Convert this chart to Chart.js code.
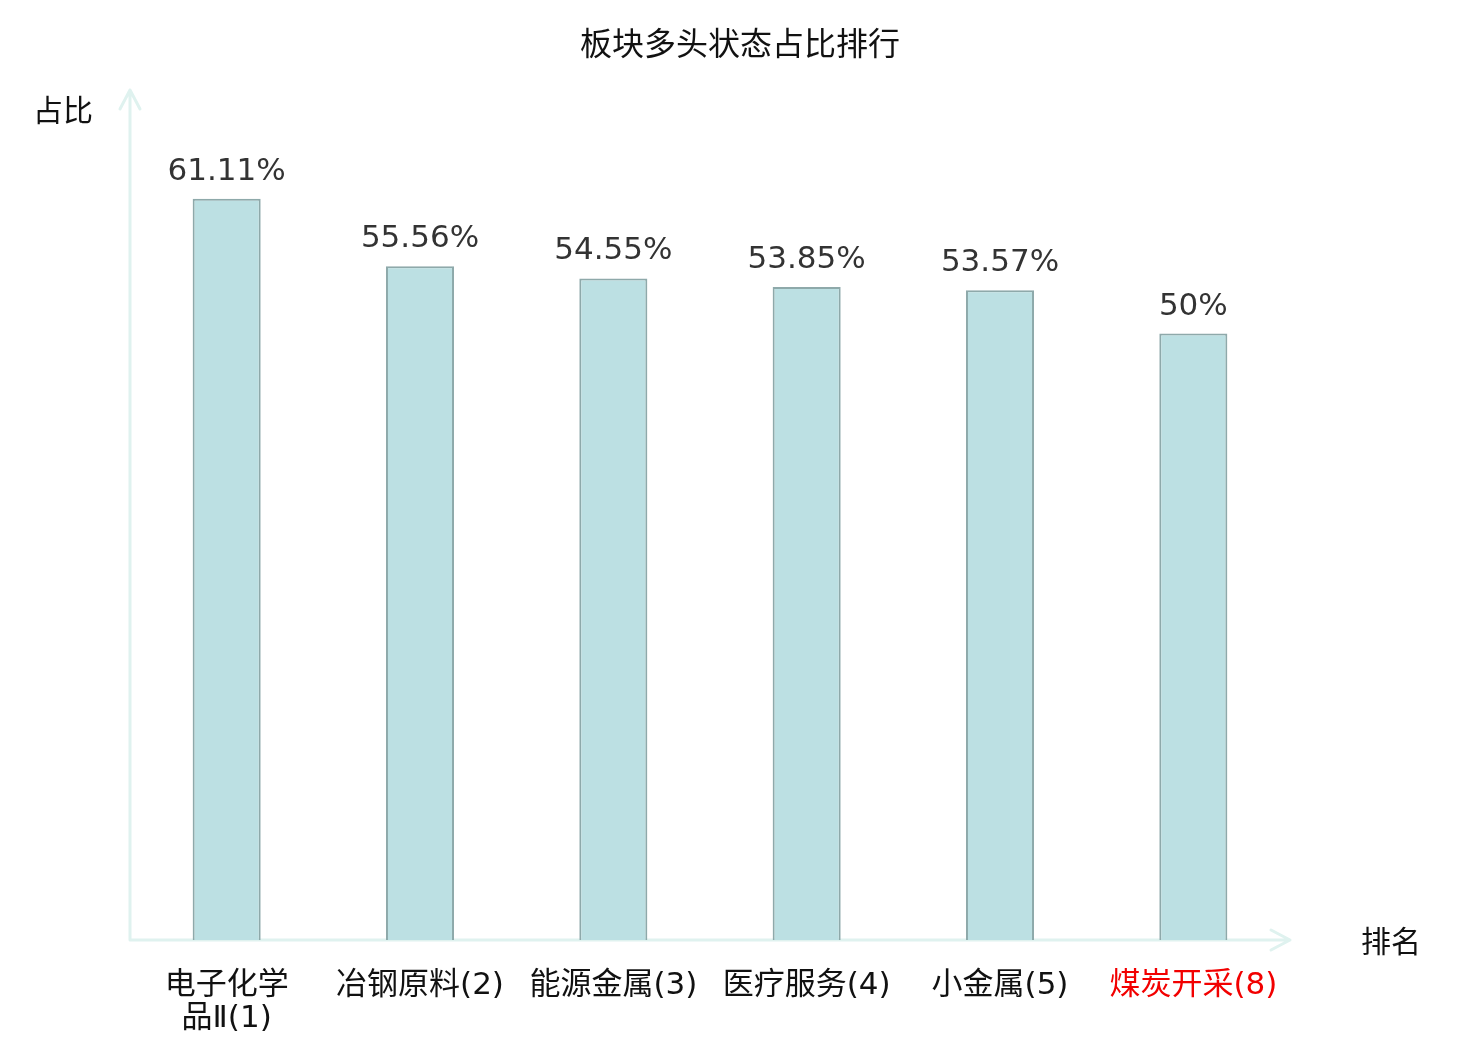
<!DOCTYPE html>
<html>
<head>
<meta charset="utf-8">
<title>板块多头状态占比排行</title>
<script src="https://cdn.jsdelivr.net/npm/chart.js@4.4.1/dist/chart.umd.min.js"></script>
<style>
  html, body { margin: 0; padding: 0; background: #fff; }
  #chart { display: block; }
</style>
</head>
<body>
<canvas id="chart" width="1480" height="1040"></canvas>
<script>
// ---------- 数据 ----------
const SECTORS = ['电子化学品Ⅱ', '冶钢原料', '能源金属', '医疗服务', '小金属', '煤炭开采'];
const RANKS   = [1, 2, 3, 4, 5, 8];
const RATIOS  = [61.11, 55.56, 54.55, 53.85, 53.57, 50];
const HIGHLIGHT = '煤炭开采';   // 当前板块，标红

const TITLE = '板块多头状态占比排行';
const Y_NAME = '占比';
const X_NAME = '排名';

// ---------- 样式 ----------
const AXIS_COLOR = '#dff2ef';
const BAR_FILL = '#bce0e3';
const BAR_EDGE = '#8ea9aa';
const CJK = '"Noto Sans CJK SC", "Noto Sans", sans-serif';
const LABEL_FONT = '31px "DejaVu Sans ExtraLight", "DejaVu Sans", "Noto Sans CJK SC", sans-serif';
const NUM = '"DejaVu Sans", sans-serif';

const labels = SECTORS.map((s, i) => `${s}(${RANKS[i]})`);

// 长名字按 4 个字换行
function splitLabel(name, rank) {
  if (name.length > 5) return [name.slice(0, 4), name.slice(4) + `(${rank})`];
  return [name + `(${rank})`];
}

// ---------- 自绘：标题、坐标轴箭头、轴名、类目、数值 ----------
const decor = {
  id: 'decor',
  beforeDatasetsDraw(chart) {
    const { ctx, chartArea: a } = chart;
    ctx.save();
    ctx.strokeStyle = AXIS_COLOR;
    ctx.lineWidth = 3;
    ctx.lineCap = 'round';
    ctx.lineJoin = 'round';
    // y 轴
    ctx.beginPath();
    ctx.moveTo(a.left, a.bottom);
    ctx.lineTo(a.left, a.top - 1);
    ctx.moveTo(a.left - 10, a.top + 18);
    ctx.lineTo(a.left, a.top - 1);
    ctx.lineTo(a.left + 10, a.top + 18);
    // x 轴
    ctx.moveTo(a.left, a.bottom);
    ctx.lineTo(a.right, a.bottom);
    ctx.moveTo(a.right - 19, a.bottom - 10);
    ctx.lineTo(a.right, a.bottom);
    ctx.lineTo(a.right - 19, a.bottom + 10);
    ctx.stroke();
    ctx.restore();
  },
  afterDatasetsDraw(chart) {
    const { ctx, chartArea: a } = chart;
    const xs = chart.scales.x;
    ctx.save();
    ctx.textAlign = 'center';
    ctx.textBaseline = 'middle';

    // 标题
    ctx.fillStyle = '#111';
    ctx.font = `32px ${CJK}`;
    ctx.fillText(TITLE, chart.width / 2, 43);

    // 轴名
    ctx.font = `30px ${CJK}`;
    ctx.fillText(Y_NAME, 63, 110);
    ctx.fillText(X_NAME, 1391, a.bottom + 1);

    // 类目标签
    ctx.font = LABEL_FONT;
    SECTORS.forEach((s, i) => {
      const x = xs.getPixelForTick(i);
      ctx.fillStyle = s === HIGHLIGHT ? '#f20000' : '#111';
      splitLabel(s, RANKS[i]).forEach((line, k) => {
        ctx.fillText(line, x, a.bottom + 46 + k * 33);
      });
    });

    // 数值标签
    ctx.fillStyle = '#333';
    ctx.font = `31px ${NUM}`;
    ctx.textBaseline = 'alphabetic';
    chart.getDatasetMeta(0).data.forEach((bar, i) => {
      ctx.fillText(RATIOS[i] + '%', bar.x, bar.y - 19);
    });
    ctx.restore();
  }
};

new Chart(document.getElementById('chart'), {
  type: 'bar',
  data: {
    labels,
    datasets: [{
      data: RATIOS,
      backgroundColor: BAR_FILL,
      borderColor: BAR_EDGE,
      borderWidth: 2,
      borderSkipped: 'bottom',
      categoryPercentage: 1,
      barPercentage: 0.352,
    }],
  },
  options: {
    responsive: false,
    animation: false,
    devicePixelRatio: 1,
    layout: { padding: { left: 130, right: 190, top: 91, bottom: 100 } },
    plugins: {
      legend: { display: false },
      title: { display: false },
      tooltip: { enabled: false },
    },
    scales: {
      x: { display: false },
      y: { display: false, min: 0, max: 70 },
    },
  },
  plugins: [decor],
});
</script>
</body>
</html>
